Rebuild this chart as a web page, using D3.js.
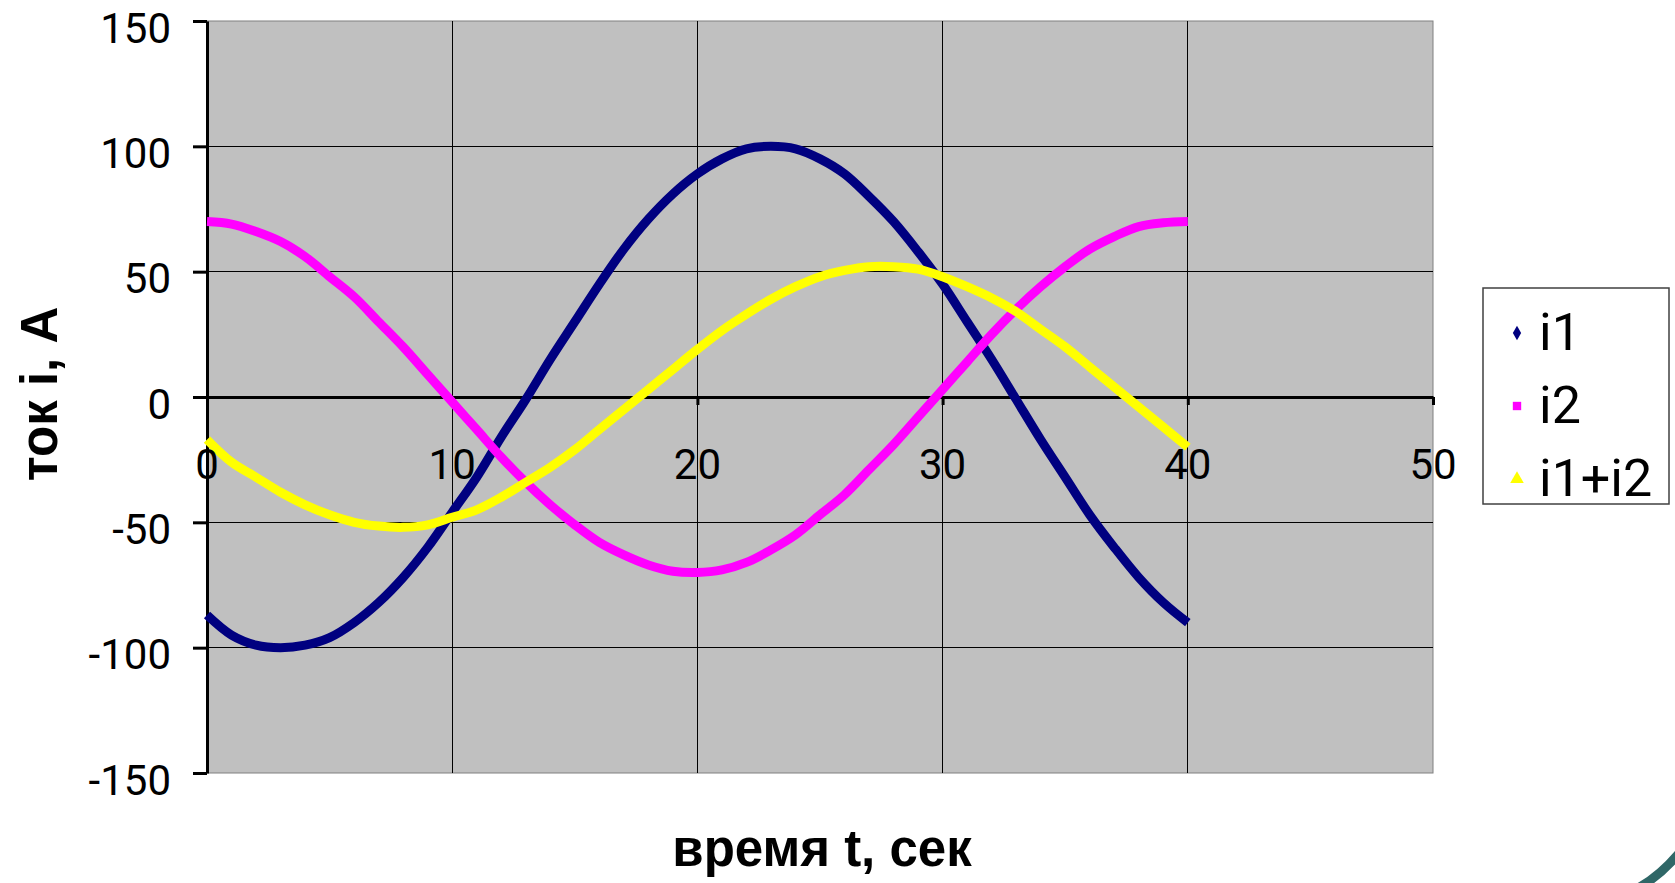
<!DOCTYPE html>
<html lang="ru">
<head>
<meta charset="UTF-8" />
<title>ток i(t)</title>
<script src="https://d3js.org/d3.v7.min.js"></script>
<style>
    body { margin: 0; background: #fff; }
    svg { display: block; }
    .tick text { font-family: Roboto, "Liberation Sans", sans-serif; }
</style>
</head>
<body>
<div id="chart"></div>
<script>
    const width = 1675;
    const height = 883;

    // время t, сек
    const times = d3.range(0, 41);
    // values, 1 s step
    const i1 = [-87, -95, -99, -100, -99, -96, -90, -82, -72, -60, -46, -32, -16, -1, 15, 30,
        45, 59, 71, 81, 89, 95, 99, 100, 99, 95, 89, 80, 70, 58, 45, 30, 15, -1, -17, -32,
        -47, -60, -72, -82, -90];
    const i2 = [70, 69, 66, 62, 56, 48, 40, 30, 20, 9, -2, -13, -24, -34, -43, -51, -58, -63,
        -67, -69.5, -70, -69, -66, -61, -55, -47, -39, -29, -19, -8, 3, 14, 25, 35, 44, 52,
        59, 64, 68, 69.5, 70];
    const iSum = [-17, -26, -32, -38, -43, -47, -50, -51.5, -52, -51, -48, -45, -40, -34, -28,
        -21, -13, -5, 3, 11, 19, 26.5, 33, 39, 44, 48, 50.5, 52, 52, 51, 48, 44, 39.5, 34, 27,
        20, 12, 4, -4, -12, -20];

    const series = [
        { name: "i1", values: i1, color: "#000080", symbol: d3.symbolDiamond, size: 60 },
        { name: "i2", values: i2, color: "#ff00ff", symbol: d3.symbolSquare, size: 70 },
        { name: "i1+i2", values: iSum, color: "#ffff00", symbol: d3.symbolTriangle, size: 80 }
    ];

    const xTicks = [0, 10, 20, 30, 40, 50];
    const yTicks = [-150, -100, -50, 0, 50, 100, 150];

    const plot = { left: 207, top: 21, right: 1433, bottom: 773 };

    const x = d3.scaleLinear().domain([0, 50]).range([plot.left, plot.right]);
    const y = d3.scaleLinear().domain([-150, 150]).range([plot.bottom, plot.top]);

    const svg = d3.select("#chart").append("svg")
        .attr("width", width)
        .attr("height", height);

    // plot area
    svg.append("rect")
        .attr("x", plot.left)
        .attr("y", plot.top)
        .attr("width", plot.right - plot.left)
        .attr("height", plot.bottom - plot.top)
        .attr("fill", "#c0c0c0")
        .attr("stroke", "#808080")
        .attr("stroke-width", 1);

    // grid
    const grid = svg.append("g").attr("shape-rendering", "crispEdges");
    grid.selectAll(".vg").data(xTicks.filter(d => d > 0 && d < 50)).join("line")
        .attr("x1", d => x(d)).attr("x2", d => x(d))
        .attr("y1", plot.top).attr("y2", plot.bottom)
        .attr("stroke", "#000").attr("stroke-width", 1);
    grid.selectAll(".hg").data(yTicks.filter(d => d !== 0 && Math.abs(d) < 150)).join("line")
        .attr("x1", plot.left).attr("x2", plot.right)
        .attr("y1", d => y(d)).attr("y2", d => y(d))
        .attr("stroke", "#000").attr("stroke-width", 1);

    // y axis (plain hyphen for minus, like the original)
    const yAxisG = svg.append("g")
        .attr("transform", `translate(${plot.left},0)`)
        .call(d3.axisLeft(y).tickValues(yTicks).tickFormat(d => String(d))
            .tickSize(14).tickPadding(22).tickSizeOuter(0));
    yAxisG.select(".domain").attr("stroke-width", 3);
    yAxisG.selectAll(".tick line").attr("stroke-width", 3);
    yAxisG.selectAll(".tick text")
        .attr("font-size", 42)
        .attr("fill", "#000")
        .attr("dy", "0.5em");

    // x axis at zero
    const xAxisG = svg.append("g")
        .attr("transform", `translate(0,${y(0)})`)
        .call(d3.axisBottom(x).tickValues(xTicks).tickSize(8).tickPadding(46).tickSizeOuter(0));
    xAxisG.select(".domain").attr("stroke-width", 3);
    xAxisG.selectAll(".tick line").attr("stroke-width", 3);
    xAxisG.selectAll(".tick text").remove();

    // curves
    const line = d3.line()
        .x((d, i) => x(times[i]))
        .y(d => y(d))
        .curve(d3.curveCatmullRom);

    svg.append("g").selectAll("path").data(series).join("path")
        .attr("d", d => line(d.values))
        .attr("fill", "none")
        .attr("stroke", d => d.color)
        .attr("stroke-width", 9)
        .attr("stroke-linejoin", "round");

    // x tick labels on top of the curves
    svg.append("g").selectAll("text").data(xTicks).join("text")
        .attr("x", d => x(d))
        .attr("y", y(0) + 82)
        .attr("text-anchor", "middle")
        .attr("font-family", "Roboto, 'Liberation Sans', sans-serif")
        .attr("font-size", 42)
        .text(d => d);

    // axis titles
    svg.append("text")
        .attr("x", 822)
        .attr("y", 866)
        .attr("text-anchor", "middle")
        .attr("font-family", "'Liberation Sans', Arial, sans-serif")
        .attr("font-weight", "bold")
        .attr("font-size", 51)
        .text("время t, сек");

    svg.append("text")
        .attr("transform", "translate(57,394) rotate(-90)")
        .attr("text-anchor", "middle")
        .attr("font-family", "'Liberation Sans', Arial, sans-serif")
        .attr("font-weight", "bold")
        .attr("font-size", 51)
        .text("ток i, А");

    // legend
    const legend = svg.append("g");
    legend.append("rect")
        .attr("x", 1483).attr("y", 288)
        .attr("width", 186).attr("height", 216)
        .attr("fill", "#fff")
        .attr("stroke", "#404040")
        .attr("stroke-width", 1.5);
    const items = legend.selectAll(".item").data(series).join("g")
        .attr("transform", (d, i) => `translate(1517,${333 + i * 73})`);
    items.append("path")
        .attr("d", d => d3.symbol(d.symbol, d.size)())
        .attr("fill", d => d.color);
    items.append("text")
        .attr("x", 22)
        .attr("y", 17)
        .attr("font-family", "Roboto, 'Liberation Sans', sans-serif")
        .attr("font-size", 52)
        .text(d => d.name);

    // slide decoration, bottom right
    svg.append("path")
        .attr("d", "M1638,888 Q1660,876 1680,852")
        .attr("fill", "none")
        .attr("stroke", "#2f6767")
        .attr("stroke-width", 9);
</script>
</body>
</html>
